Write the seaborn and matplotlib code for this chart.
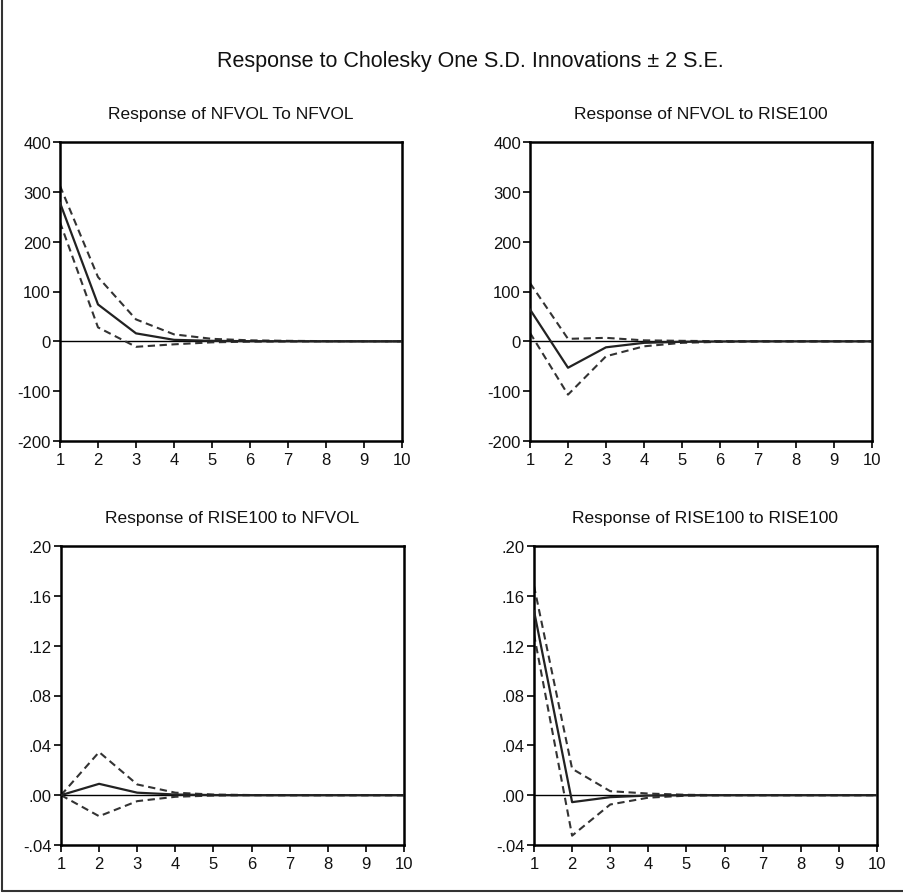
import numpy as np
import pandas as pd
import matplotlib
matplotlib.use("Agg")
import matplotlib.pyplot as plt
from matplotlib.lines import Line2D
from matplotlib.ticker import FuncFormatter
import seaborn as sns

sns.set_style("white")
plt.rcParams['font.family'] = ['Liberation Sans', 'DejaVu Sans']
plt.rcParams['axes.unicode_minus'] = False

periods = [1, 2, 3, 4, 5, 6, 7, 8, 9, 10]

nfvol_nfvol_resp = [278, 74, 16, 3, 1, 0.3, 0.1, 0, 0, 0]
nfvol_nfvol_upper = [312, 129, 44, 14, 5, 2, 1, 0.4, 0.1, 0]
nfvol_nfvol_lower = [239, 28, -11, -6, -2, -0.6, -0.2, 0, 0, 0]

nfvol_rise_resp = [64, -53, -12, -3, -1, -0.3, 0, 0, 0, 0]
nfvol_rise_upper = [117, 5, 7, 2, 1, 0.3, 0.1, 0, 0, 0]
nfvol_rise_lower = [17, -107, -30, -10, -3, -1, -0.2, 0, 0, 0]

rise_nfvol_resp = [0.0, 0.0091, 0.002, 0.0005, 0.0001, 0, 0, 0, 0, 0]
rise_nfvol_upper = [0.0, 0.0346, 0.0086, 0.002, 0.0005, 0.0001, 0, 0, 0, 0]
rise_nfvol_lower = [0.0, -0.0169, -0.0048, -0.0013, -0.0003, 0, 0, 0, 0, 0]

rise_rise_resp = [0.148, -0.0056, -0.0016, -0.0003, 0, 0, 0, 0, 0, 0]
rise_rise_upper = [0.168, 0.0212, 0.0032, 0.0013, 0.0003, 0, 0, 0, 0, 0]
rise_rise_lower = [0.129, -0.0325, -0.0075, -0.002, -0.0004, 0, 0, 0, 0, 0]

titles = ["Response of NFVOL To NFVOL", "Response of NFVOL to RISE100",
          "Response of RISE100 to NFVOL", "Response of RISE100 to RISE100"]
main_title = "Response to Cholesky One S.D. Innovations \u00b1 2 S.E."

panels = [
    (nfvol_nfvol_resp, nfvol_nfvol_upper, nfvol_nfvol_lower),
    (nfvol_rise_resp, nfvol_rise_upper, nfvol_rise_lower),
    (rise_nfvol_resp, rise_nfvol_upper, rise_nfvol_lower),
    (rise_rise_resp, rise_rise_upper, rise_rise_lower),
]

W, H = 904, 895
fig = plt.figure(figsize=(W / 100, H / 100), dpi=100)
fig.patch.set_facecolor("white")

# axes boxes in pixels: left, right, top, bottom
boxes = [(60, 402, 143, 442), (530, 872, 143, 442),
         (61, 404, 547, 846), (534, 877, 547, 846)]

def fmt_small(v, pos):
    s = "%.2f" % v
    if s.startswith("0"):
        s = s[1:]
    elif s.startswith("-0"):
        s = "-" + s[2:]
    return s

def fmt_int(v, pos):
    return "%d" % round(v)

for i, ((l, r, t, b), (resp, up, lo)) in enumerate(zip(boxes, panels)):
    ax = fig.add_axes([l / W, 1 - b / H, (r - l) / W, (b - t) / H])
    df = pd.DataFrame({"period": periods, "resp": resp, "upper": up, "lower": lo})
    ax.axhline(0, color="black", lw=1.0, zorder=1)
    sns.lineplot(data=df, x="period", y="resp", ax=ax, color="#222222", lw=1.6, zorder=3)
    sns.lineplot(data=df, x="period", y="upper", ax=ax, color="#333333", lw=1.5,
                 linestyle=(0, (3.5, 2.2)), zorder=2)
    sns.lineplot(data=df, x="period", y="lower", ax=ax, color="#333333", lw=1.5,
                 linestyle=(0, (3.5, 2.2)), zorder=2)
    ax.set_xlim(1, 10)
    ax.set_xticks(periods)
    if i < 2:
        ax.set_ylim(-200, 400)
        ax.set_yticks([-200, -100, 0, 100, 200, 300, 400])
        ax.yaxis.set_major_formatter(FuncFormatter(fmt_int))
    else:
        ax.set_ylim(-0.04, 0.20)
        ax.set_yticks([-0.04, 0.00, 0.04, 0.08, 0.12, 0.16, 0.20])
        ax.yaxis.set_major_formatter(FuncFormatter(fmt_small))
    ax.set_xlabel("")
    ax.set_ylabel("")
    for sp in ax.spines.values():
        sp.set_color("black")
        sp.set_linewidth(1.8)
        sp.set_visible(True)
    ax.tick_params(axis="both", direction="out", length=5, width=1.2, color="black",
                   labelsize=12, labelcolor="#111111", pad=1.5, left=True, bottom=True)
    ax.tick_params(axis="x", pad=3)
    ax.set_title(titles[i], fontsize=12.5, color="#111111", pad=17)

fig.text(470 / W, 1 - 62 / H, main_title, ha="center", va="center",
         fontsize=15.5, color="#111111")

# outer frame (left and bottom visible)
fig.add_artist(Line2D([2 / W, 2 / W], [1 - 892 / H, 1.0], transform=fig.transFigure,
                      color="#333333", lw=1.5))
fig.add_artist(Line2D([2 / W, 1.0], [1 - 892 / H, 1 - 892 / H], transform=fig.transFigure,
                      color="#333333", lw=1.5))

fig.savefig("out.png", dpi=100, facecolor="white")
